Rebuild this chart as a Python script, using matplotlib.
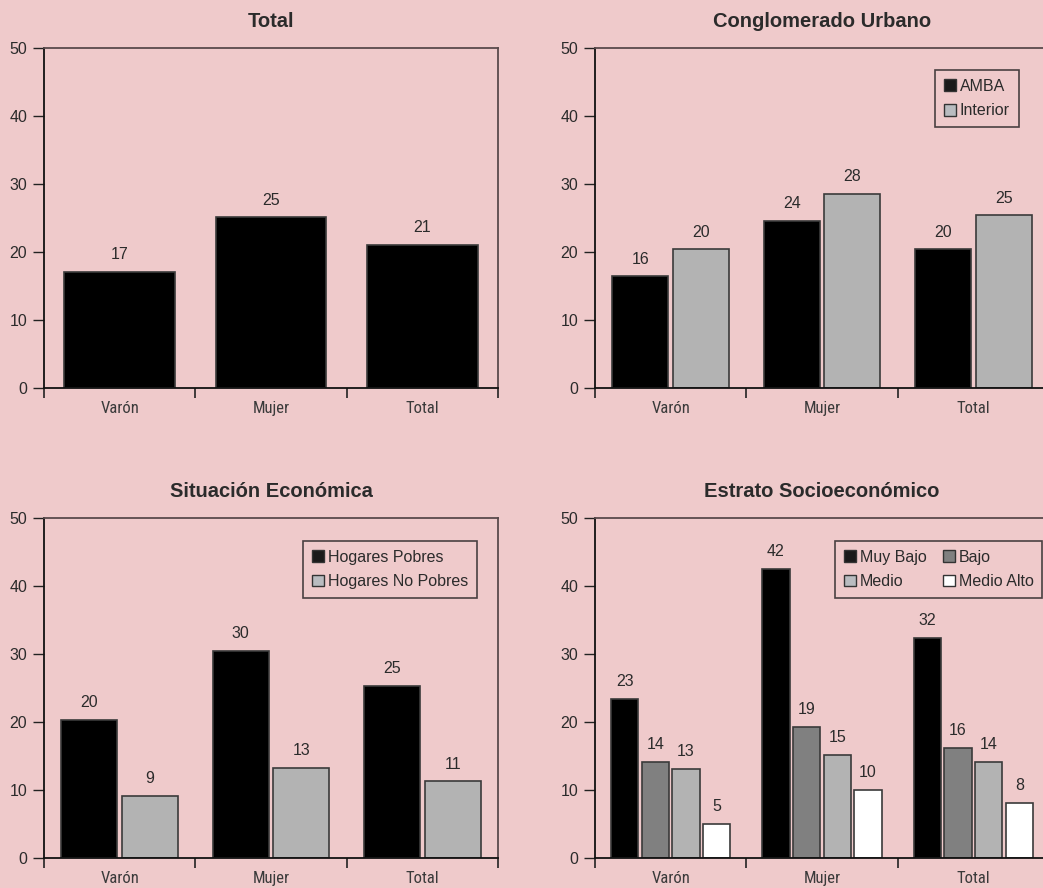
import matplotlib
matplotlib.use("Agg")
import matplotlib.pyplot as plt
from matplotlib.patches import Patch
from matplotlib import font_manager
from matplotlib.font_manager import FontProperties
import numpy as np

# ---------------- data ----------------
categories = ["Varón", "Mujer", "Total"]

total_values = [17.1, 25.1, 21.0]

urbano_series = ["AMBA", "Interior"]
urbano_amba = [16.4, 24.6, 20.4]
urbano_interior = [20.4, 28.6, 25.4]

econ_series = ["Hogares Pobres", "Hogares No Pobres"]
econ_pobres = [20.4, 30.5, 25.4]
econ_no_pobres = [9.2, 13.3, 11.3]

estrato_series = ["Muy Bajo", "Bajo", "Medio", "Medio Alto"]
estrato_muy_bajo = [23.4, 42.6, 32.4]
estrato_bajo = [14.2, 19.3, 16.2]
estrato_medio = [13.2, 15.2, 14.2]
estrato_medio_alto = [5.05, 10.1, 8.2]

titles = ["Total", "Conglomerado Urbano", "Situación Económica", "Estrato Socioeconómico"]
yticks = [0, 10, 20, 30, 40, 50]

# ---------------- style ----------------
BG = "#EFCACB"
TXT = "#2b2b2b"
EDGE = "#3a3a3a"
plt.rcParams["font.family"] = ["Liberation Sans", "DejaVu Sans"]


def _is_regular(f):
    return f.style == "normal" and f.weight in (400, "normal", "regular")


# pick a condensed upright font for category labels
narrow_prop = None
for wanted in ("Liberation Sans Narrow", "Roboto Condensed", "Open Sans Condensed"):
    for f in font_manager.fontManager.ttflist:
        if f.name == wanted and _is_regular(f):
            narrow_prop = FontProperties(fname=f.fname, size=12)
            break
    if narrow_prop is not None:
        break
if narrow_prop is None:
    for f in font_manager.fontManager.ttflist:
        if f.name == "DejaVu Sans" and f.stretch == "condensed" and _is_regular(f):
            narrow_prop = FontProperties(fname=f.fname, size=11)
            break
if narrow_prop is None:
    narrow_prop = FontProperties(family="Liberation Sans", size=11)

fig = plt.figure(figsize=(10.43, 8.88), dpi=100, facecolor=BG)

W = 454 / 1043
H = 340 / 888
positions = [
    (44 / 1043, 1 - 388 / 888, W, H),
    (595 / 1043, 1 - 388 / 888, W, H),
    (44 / 1043, 1 - 858.3 / 888, W, H),
    (595 / 1043, 1 - 858.3 / 888, W, H),
]


def setup_axes(ax, title):
    ax.set_facecolor(BG)
    ax.set_xlim(-0.5, 2.5)
    ax.set_ylim(0, 50)
    ax.set_yticks(yticks)
    ax.set_yticklabels([str(t) for t in yticks], fontsize=11.5, color=TXT)
    ax.tick_params(axis="y", direction="out", length=8, width=1, color="#222222", pad=4)
    ax.set_xticks(range(len(categories)))
    ax.set_xticklabels(categories, fontproperties=narrow_prop, color="#3a3a3a")
    ax.tick_params(axis="x", which="major", length=0, pad=9)
    ax.set_xticks([-0.5, 0.5, 1.5, 2.5], minor=True)
    ax.tick_params(axis="x", which="minor", direction="out", length=7, width=1.2, color="#222222")
    for s in ["left", "bottom"]:
        ax.spines[s].set_color("#111111")
        ax.spines[s].set_linewidth(1.3)
    for s in ["top", "right"]:
        ax.spines[s].set_color("#5a4a4c")
        ax.spines[s].set_linewidth(1.3)
    ax.set_title(title, fontsize=14.5, fontweight="bold", color=TXT, pad=15)


def labels_for(vals):
    return [str(int(v)) for v in vals]


def draw_group(ax, series_vals, colors, width, offsets):
    x = np.arange(len(categories))
    for vals, col, off in zip(series_vals, colors, offsets):
        bars = ax.bar(x + off, vals, width=width, color=col, edgecolor=EDGE, linewidth=1.2, zorder=2)
        ax.bar_label(bars, labels=labels_for(vals), padding=7, fontsize=11.5, color=TXT)


def add_legend(ax, names, colors, anchor, ncol=1, colspacing=1.0, fs=11.5):
    handles = [Patch(facecolor=c, edgecolor="#333333", linewidth=1.0) for c in colors]
    if ncol == 2:
        order = [0, 2, 1, 3]
        handles = [handles[i] for i in order]
        names = [names[i] for i in order]
    leg = ax.legend(handles, names, loc="upper left", bbox_to_anchor=anchor,
                    bbox_transform=ax.transAxes, ncol=ncol, fontsize=fs,
                    frameon=True, fancybox=False, borderaxespad=0,
                    handlelength=0.75, handleheight=0.75, handletextpad=0.25,
                    labelspacing=0.6, columnspacing=colspacing, borderpad=0.55)
    fr = leg.get_frame()
    fr.set_facecolor(BG)
    fr.set_edgecolor("#4a4042")
    fr.set_linewidth(1.2)
    fr.set_alpha(1)
    for t in leg.get_texts():
        t.set_color(TXT)


axes = [fig.add_axes(p) for p in positions]
for ax, t in zip(axes, titles):
    setup_axes(ax, t)

# Panel 1
draw_group(axes[0], [total_values], ["#000000"], 0.73, [0.0])

# Panel 2
draw_group(axes[1], [urbano_amba, urbano_interior], ["#000000", "#B3B3B3"], 0.37, [-0.2, 0.2])
add_legend(axes[1], urbano_series, ["#1a1a1a", "#B9BCC0"], (0.749, 0.935))

# Panel 3
draw_group(axes[2], [econ_pobres, econ_no_pobres], ["#000000", "#B3B3B3"], 0.37, [-0.2, 0.2])
add_legend(axes[2], econ_series, ["#1a1a1a", "#B9BCC0"], (0.570, 0.934))

# Panel 4
draw_group(axes[3], [estrato_muy_bajo, estrato_bajo, estrato_medio, estrato_medio_alto],
           ["#000000", "#808080", "#B3B3B3", "#FFFFFF"], 0.18,
           [-0.3045, -0.1015, 0.1015, 0.3045])
add_legend(axes[3], estrato_series, ["#1a1a1a", "#808080", "#B9BCC0", "#FFFFFF"], (0.529, 0.934),
           ncol=2, colspacing=1.0, fs=11.5)

fig.savefig("out.png", dpi=100, facecolor=BG)
